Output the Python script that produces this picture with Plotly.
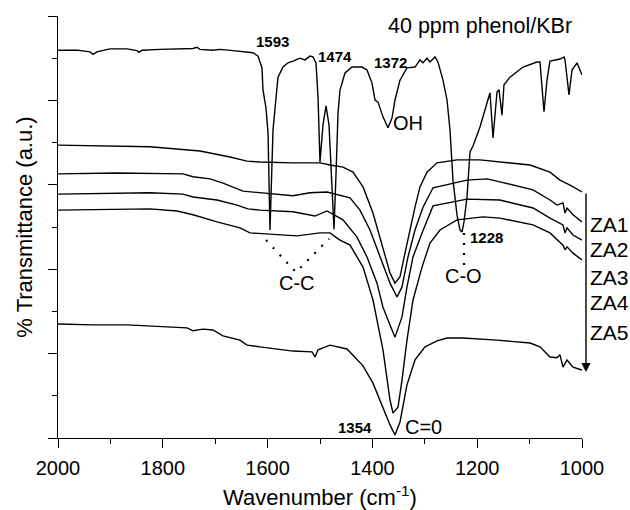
import plotly.graph_objects as go

# ---------------- data (wavenumber cm-1, transmittance a.u.) ----------------
phenol_wn = [2000.0, 1963.7, 1938.9, 1933.2, 1925.6, 1900.8, 1868.3, 1849.2, 1845.4, 1839.7,
             1805.3, 1742.4, 1734.7, 1729.0, 1704.2, 1690.8, 1666.0, 1639.3, 1627.9, 1618.3,
             1614.5, 1610.7, 1608.8, 1605.0, 1603.1, 1599.2, 1595.4, 1589.7, 1584.0, 1580.2,
             1570.6, 1561.1, 1551.5, 1538.2, 1528.6, 1519.1, 1513.4, 1507.6, 1503.8, 1500.0,
             1494.3, 1488.5, 1482.8, 1477.1, 1473.3, 1469.5, 1465.6, 1461.8, 1452.3, 1438.9,
             1419.9, 1410.3, 1400.8, 1395.0, 1389.3, 1379.8, 1370.2, 1362.6, 1356.9, 1347.3,
             1334.0, 1318.7, 1309.2, 1303.4, 1295.8, 1290.1, 1280.5, 1274.8, 1265.3, 1257.6,
             1251.9, 1246.2, 1238.5, 1232.8, 1229.0, 1225.2, 1219.5, 1213.7, 1208.0, 1194.7,
             1181.3, 1175.6, 1169.8, 1162.2, 1158.4, 1152.7, 1148.9, 1137.4, 1112.6, 1085.9,
             1080.2, 1072.5, 1066.8, 1061.1, 1042.0, 1034.3, 1032.4, 1024.8, 1019.1, 1009.5,
             1000.0]
phenol_t = [91.9, 91.9, 91.5, 90.9, 91.5, 92.2, 92.2, 91.8, 91.4, 91.9,
            92.1, 92.3, 92.6, 92.1, 91.9, 92.1, 91.8, 91.5, 91.3, 90.5,
            89.3, 87.7, 82.5, 78.9, 78.2, 72.3, 49.3, 73.0, 80.8, 85.5,
            87.9, 88.9, 89.3, 90.0, 89.6, 90.5, 90.3, 88.9, 80.8, 65.4,
            74.2, 78.7, 74.2, 58.8, 49.5, 62.3, 77.0, 82.5, 86.5, 87.9,
            87.9, 87.2, 84.1, 80.1, 79.6, 76.1, 73.5, 75.8, 80.1, 84.8,
            87.7, 87.9, 89.6, 88.9, 90.0, 89.1, 90.3, 89.1, 84.8, 80.1,
            73.0, 61.1, 52.8, 49.3, 48.8, 51.2, 57.1, 67.8, 69.2, 73.7,
            79.4, 81.8, 71.1, 82.0, 82.5, 76.5, 83.7, 85.5, 87.9, 89.1,
            89.1, 77.3, 84.8, 89.3, 89.8, 90.3, 89.6, 81.3, 87.2, 88.9,
            86.0]

za1_wn = [2000.0, 1824.4, 1729.0, 1696.6, 1671.8, 1639.3, 1614.5, 1551.5, 1500.0, 1480.9,
          1456.1, 1437.0, 1417.9, 1398.9, 1379.8, 1366.4, 1356.9, 1347.3, 1337.8, 1328.3,
          1318.7, 1309.2, 1295.8, 1276.7, 1238.5, 1194.7, 1150.8, 1099.2, 1061.1, 1042.0,
          1022.9, 1000.0]
za1_t = [69.4, 69.0, 68.0, 67.3, 66.6, 65.6, 65.4, 65.2, 65.2, 64.7,
         64.2, 63.0, 59.5, 53.3, 45.3, 39.1, 36.7, 38.2, 43.8, 49.3,
         54.7, 59.5, 63.0, 65.2, 65.9, 65.9, 65.4, 64.7, 63.0, 61.1,
         59.9, 58.3]

za2_wn = [2000.0, 1887.4, 1761.4, 1742.4, 1709.9, 1685.1, 1647.0, 1614.5, 1551.5, 1519.1,
          1486.6, 1442.7, 1423.7, 1404.6, 1385.5, 1366.4, 1353.0, 1343.5, 1332.1, 1318.7,
          1303.4, 1284.3, 1219.5, 1181.3, 1156.5, 1093.5, 1061.1, 1047.7, 1036.3, 1032.4,
          1028.6, 1017.2, 1000.0]
za2_t = [62.6, 62.8, 62.6, 61.9, 61.4, 60.4, 58.5, 58.1, 57.4, 58.1,
         58.3, 56.9, 54.0, 49.3, 42.9, 36.7, 33.4, 35.8, 42.9, 49.3,
         54.7, 59.3, 61.1, 61.4, 60.7, 58.8, 56.4, 55.2, 55.7, 53.3,
         54.5, 52.9, 51.2]

za3_wn = [2000.0, 1824.4, 1761.4, 1742.4, 1696.6, 1658.4, 1637.4, 1614.5, 1551.5, 1509.5,
          1486.6, 1456.1, 1429.4, 1410.3, 1391.2, 1379.8, 1366.4, 1356.9, 1343.5, 1334.0,
          1322.5, 1305.3, 1284.3, 1219.5, 1156.5, 1093.5, 1061.1, 1036.3, 1032.4, 1028.6,
          1017.2, 1000.0]
za3_t = [57.8, 58.1, 57.8, 57.1, 56.4, 55.2, 54.3, 54.0, 53.6, 52.6,
         53.8, 51.7, 47.6, 42.9, 36.7, 31.0, 26.8, 23.9, 28.7, 35.8,
         42.9, 48.6, 55.0, 56.6, 56.4, 54.5, 52.1, 50.5, 48.6, 49.8,
         48.1, 46.9]

za4_wn = [2000.0, 1824.4, 1772.9, 1742.4, 1696.6, 1652.7, 1633.6, 1582.1, 1543.9, 1500.0,
          1480.9, 1461.8, 1442.7, 1417.9, 1398.9, 1379.8, 1366.4, 1360.7, 1351.1, 1343.5,
          1334.0, 1322.5, 1305.3, 1290.1, 1271.0, 1238.5, 1188.9, 1156.5, 1093.5, 1061.1,
          1036.3, 1032.4, 1028.6, 1017.2, 1000.0]
za4_t = [54.0, 54.3, 53.8, 52.9, 51.2, 49.8, 48.6, 48.1, 47.9, 48.6,
         48.6, 46.9, 45.7, 40.5, 32.7, 20.9, 9.0, 5.9, 7.3, 13.7,
         23.2, 32.7, 40.5, 46.2, 49.3, 51.7, 52.4, 52.1, 50.5, 48.6,
         45.7, 44.6, 45.3, 43.8, 42.2]

za5_wn = [2000.0, 1933.2, 1868.3, 1805.3, 1753.8, 1742.4, 1723.3, 1704.2, 1685.1, 1652.7,
          1639.3, 1614.5, 1551.5, 1515.3, 1509.5, 1503.8, 1480.9, 1448.5, 1417.9, 1398.9,
          1379.8, 1366.4, 1356.9, 1347.3, 1334.0, 1318.7, 1299.6, 1276.7, 1257.6, 1227.1,
          1162.2, 1099.2, 1080.2, 1061.1, 1047.7, 1042.0, 1036.3, 1028.6, 1017.2, 1000.0]
za5_t = [27.0, 26.8, 26.8, 26.5, 26.1, 25.4, 25.8, 25.6, 24.2, 23.2,
         22.0, 21.6, 20.6, 20.4, 19.2, 20.9, 22.0, 21.1, 17.1, 13.0,
         7.1, 3.1, 0.7, 3.8, 12.6, 18.5, 21.6, 23.0, 23.7, 23.7,
         23.2, 22.5, 21.6, 19.2, 19.0, 19.7, 16.8, 18.5, 16.8, 16.1]

series_names = ["40 ppm phenol/KBr", "ZA1", "ZA2", "ZA3", "ZA4", "ZA5"]

# dotted assignment guides (wavenumber, a.u.)
cc_wn = [1603.1, 1545.8, 1482.8]
cc_t = [46.9, 39.3, 47.2]
co_wn = [1225.2, 1225.2]
co_t = [48.6, 41.0]

# peak labels: (text, wavenumber, a.u., bold)
peak_labels = [
    ("1593", 1591.6, 93.9, True),
    ("1474", 1471.4, 90.3, True),
    ("1372", 1366.4, 88.9, True),
    ("1228", 1183.2, 47.4, True),
    ("1354", 1433.2, 2.6, True),
    ("OH", 1332.1, 74.7, False),
    ("C-O", 1227.1, 38.4, False),
    ("C-C", 1543.9, 36.7, False),
    ("C=0", 1303.4, 2.6, False),
]
title_label = ("40 ppm phenol/KBr", 1194.7, 97.6)

FONT = "Liberation Sans, Arial, Helvetica, sans-serif"
LW = 1.4

fig = go.Figure()
for name, xs, ys in zip(series_names,
                        [phenol_wn, za1_wn, za2_wn, za3_wn, za4_wn, za5_wn],
                        [phenol_t, za1_t, za2_t, za3_t, za4_t, za5_t]):
    fig.add_trace(go.Scatter(x=xs, y=ys, mode="lines", name=name,
                             line=dict(color="black", width=LW),
                             showlegend=False, hoverinfo="skip"))

for xs, ys in [(cc_wn, cc_t), (co_wn, co_t)]:
    fig.add_trace(go.Scatter(x=xs, y=ys, mode="lines",
                             line=dict(color="black", width=2.2, dash="2px,8px"),
                             showlegend=False, hoverinfo="skip"))

annotations = []
for text, xw, yv, bold in peak_labels:
    annotations.append(dict(
        x=xw, y=yv, xref="x", yref="y", showarrow=False,
        text=f"<b>{text}</b>" if bold else text,
        font=dict(family=FONT, size=15 if bold else 20, color="black"),
        xanchor="center", yanchor="middle"))

annotations.append(dict(
    x=title_label[1], y=title_label[2], xref="x", yref="y", showarrow=False,
    text=title_label[0], font=dict(family=FONT, size=21.5, color="black"),
    xanchor="center", yanchor="middle"))

# sample labels at right of plot
za_label_y = [0.505, 0.4455, 0.3815, 0.32, 0.249]
for name, yp in zip(series_names[1:], za_label_y):
    annotations.append(dict(
        x=1.0115, y=yp, xref="paper", yref="paper", showarrow=False,
        text=name, font=dict(family=FONT, size=21, color="black"),
        xanchor="left", yanchor="middle"))

# downward arrow next to sample labels
annotations.append(dict(
    x=1.0076, y=0.1564, xref="paper", yref="paper", text="",
    showarrow=True, ax=0, ay=-180, axref="pixel", ayref="pixel",
    arrowhead=2, arrowsize=1.3, arrowwidth=1.4, arrowcolor="black"))

fig.update_layout(
    width=630, height=510,
    margin=dict(l=58, r=48, t=16, b=72, autoexpand=False),
    paper_bgcolor="white", plot_bgcolor="white",
    font=dict(family=FONT, color="black"),
    annotations=annotations,
    showlegend=False,
)

fig.update_xaxes(
    range=[2000, 1000], tick0=1000, dtick=200, automargin=False,
    showline=True, linecolor="black", linewidth=1.3,
    ticks="outside", ticklen=9, tickwidth=1.3, tickcolor="black",
    ticklabelstandoff=3,
    minor=dict(ticks="outside", ticklen=5, tickwidth=1.3, tickcolor="black", dtick=100),
    showgrid=False, zeroline=False,
    tickfont=dict(family=FONT, size=20, color="black"),
    title=dict(text="Wavenumber (cm<sup>-1</sup>)",
               font=dict(family=FONT, size=22, color="black"), standoff=14),
)
fig.update_yaxes(
    range=[0, 100], tick0=0, dtick=20, automargin=False,
    showline=True, linecolor="black", linewidth=1.3,
    ticks="outside", ticklen=9, tickwidth=1.3, tickcolor="black",
    minor=dict(ticks="outside", ticklen=5, tickwidth=1.3, tickcolor="black", dtick=10),
    showgrid=False, zeroline=False, showticklabels=False,
    title=dict(text="% Transmittance (a.u.)",
               font=dict(family=FONT, size=22, color="black"), standoff=9),
)

fig.write_html("out.html")
